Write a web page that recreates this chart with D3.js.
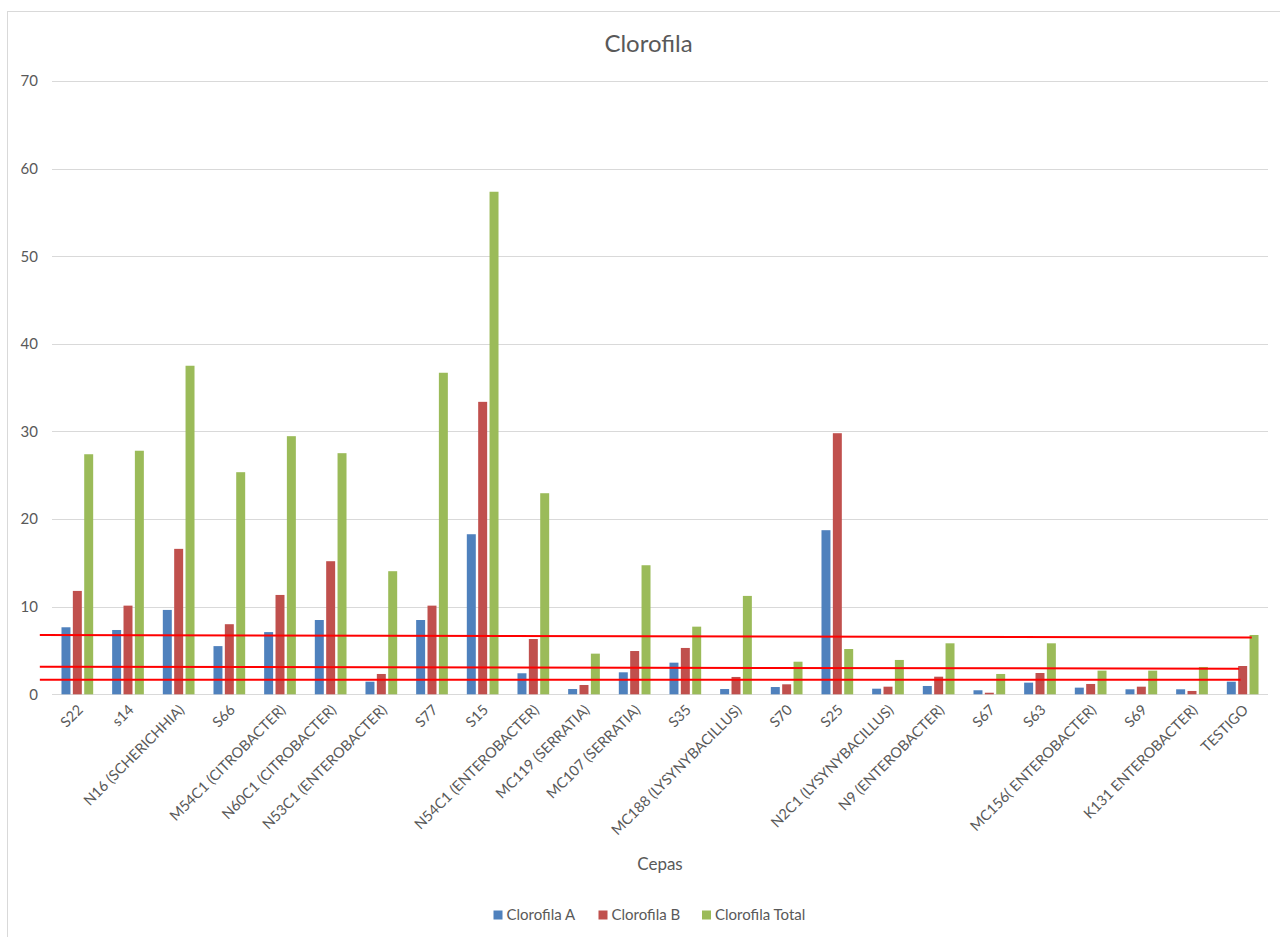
<!DOCTYPE html>
<html>
<head>
<meta charset="utf-8">
<script src="https://cdn.jsdelivr.net/npm/d3@7"></script>
<style>
  html, body { margin: 0; padding: 0; background: #ffffff; }
  svg { display: block; }
  text { font-family: Lato, "Open Sans", sans-serif; fill: #595959; }
</style>
</head>
<body>
<svg id="chart" width="1280" height="937"></svg>
<script>
// ---------- data ----------
const categories = [
  "S22", "s14", "N16 (SCHERICHHIA)", "S66", "M54C1 (CITROBACTER)", "N60C1 (CITROBACTER)",
  "N53C1 (ENTEROBACTER)", "S77", "S15", "N54C1 (ENTEROBACTER)", "MC119 (SERRATIA)",
  "MC107 (SERRATIA)", "S35", "MC188 (LYSYNYBACILLUS)", "S70", "S25", "N2C1 (LYSYNYBACILLUS)",
  "N9 (ENTEROBACTER)", "S67", "S63", "MC156( ENTEROBACTER)", "S69", "K131 ENTEROBACTER)", "TESTIGO"
];
const seriesNames = ["Clorofila A", "Clorofila B", "Clorofila Total"];
const clorofilaA = [7.65, 7.34, 9.63, 5.5, 7.1, 8.48, 1.44, 8.48, 18.27, 2.4, 0.6, 2.51,
  3.61, 0.6, 0.83, 18.73, 0.64, 0.95, 0.46, 1.33, 0.76, 0.57, 0.57, 1.44];
const clorofilaB = [11.8, 10.12, 16.6, 8.0, 11.34, 15.19, 2.32, 10.12, 33.38, 6.31, 1.06, 4.94,
  5.29, 1.98, 1.14, 29.8, 0.87, 2.01, 0.18, 2.43, 1.18, 0.87, 0.38, 3.23];
const clorofilaTotal = [27.4, 27.8, 37.5, 25.35, 29.46, 27.52, 14.05, 36.7, 57.36, 22.95, 4.64, 14.73,
  7.72, 11.23, 3.72, 5.17, 3.92, 5.82, 2.32, 5.82, 2.7, 2.7, 3.12, 6.77];
const yTicks = [0, 10, 20, 30, 40, 50, 60, 70];
const chartTitle = "Clorofila";
const xAxisTitle = "Cepas";
// hand-drawn red reference lines: x in category-position units, y in data units
const refLines = [
  { x0: -0.24, y0: 6.77, x1: 23.68, y1: 6.49 },
  { x0: -0.24, y0: 3.15, x1: 23.43, y1: 2.92 },
  { x0: -0.24, y0: 1.67, x1: 23.46, y1: 1.67 }
];

// ---------- layout ----------
const colors = ["#4f81bd", "#c0504d", "#9bbb59"];
const plot = { left: 52, right: 1268, top: 81, bottom: 694.3 };
const svg = d3.select("#chart");

// chart border (only left/top visible within the frame)
svg.append("rect")
  .attr("x", 7.5).attr("y", 11.5).attr("width", 1400).attr("height", 1100)
  .attr("fill", "none").attr("stroke", "#d9d9d9").attr("stroke-width", 1);

const y = d3.scaleLinear().domain([0, 70]).range([plot.bottom, plot.top]);
const x0 = d3.scaleBand().domain(categories).range([plot.left, plot.right]).padding(0);
const groupW = 31.7;
const x1 = d3.scaleBand().domain(seriesNames).range([0, groupW]).paddingInner(0.21).paddingOuter(0);
const xPos = d3.scaleLinear().domain([0, categories.length]).range([plot.left, plot.right]);

// gridlines
svg.append("g").selectAll("line").data(yTicks).join("line")
  .attr("x1", plot.left).attr("x2", plot.right)
  .attr("y1", d => Math.round(y(d)) + 0.5).attr("y2", d => Math.round(y(d)) + 0.5)
  .attr("stroke", "#d9d9d9").attr("stroke-width", 1);

// y tick labels
const yAxis = d3.axisLeft(y).tickValues(yTicks).tickSize(0).tickPadding(0);
const gy = svg.append("g").attr("transform", `translate(38,0)`).call(yAxis);
gy.select(".domain").remove();
gy.selectAll("text").attr("font-size", 15).attr("fill", "#595959")
  .attr("font-family", "Lato, 'Open Sans', sans-serif");

// bars
const seriesData = [clorofilaA, clorofilaB, clorofilaTotal];
const barsG = svg.append("g");
seriesData.forEach((vals, si) => {
  barsG.append("g").selectAll("rect").data(vals).join("rect")
    .attr("x", (d, i) => x0(categories[i]) + (x0.bandwidth() - groupW) / 2 + x1(seriesNames[si]))
    .attr("width", x1.bandwidth())
    .attr("y", d => y(d))
    .attr("height", d => y(0) - y(d))
    .attr("fill", colors[si]);
});

// x axis labels
const xAxis = d3.axisBottom(x0).tickSize(0).tickPadding(0);
const gx = svg.append("g").attr("transform", `translate(0,${plot.bottom})`).call(xAxis);
gx.select(".domain").remove();
gx.selectAll(".tick text")
  .attr("font-size", 14.5).attr("fill", "#595959")
  .attr("font-family", "Lato, 'Open Sans', sans-serif")
  .attr("text-anchor", "end")
  .attr("dy", "0.35em")
  .attr("transform", "translate(3,13) rotate(-45)")
  .attr("y", 0).attr("x", 0);

// red reference lines
svg.append("g").selectAll("line").data(refLines).join("line")
  .attr("x1", d => xPos(d.x0)).attr("y1", d => y(d.y0))
  .attr("x2", d => xPos(d.x1)).attr("y2", d => y(d.y1))
  .attr("stroke", "#ff0000").attr("stroke-width", 2);

// title
svg.append("text").attr("x", 648.5).attr("y", 52).attr("text-anchor", "middle")
  .attr("font-size", 24).text(chartTitle);

// axis title
svg.append("text").attr("x", (plot.left + plot.right) / 2).attr("y", 870).attr("text-anchor", "middle")
  .attr("font-size", 17).text(xAxisTitle);

// legend
const legendItems = [
  { name: seriesNames[0], color: colors[0], x: 493.5 },
  { name: seriesNames[1], color: colors[1], x: 598.5 },
  { name: seriesNames[2], color: colors[2], x: 702 }
];
const lg = svg.append("g");
legendItems.forEach(it => {
  lg.append("rect").attr("x", it.x).attr("y", 910.5).attr("width", 9).attr("height", 9).attr("fill", it.color);
  lg.append("text").attr("x", it.x + 13).attr("y", 915).attr("dy", "0.35em")
    .attr("font-size", 15).text(it.name);
});
</script>
</body>
</html>
